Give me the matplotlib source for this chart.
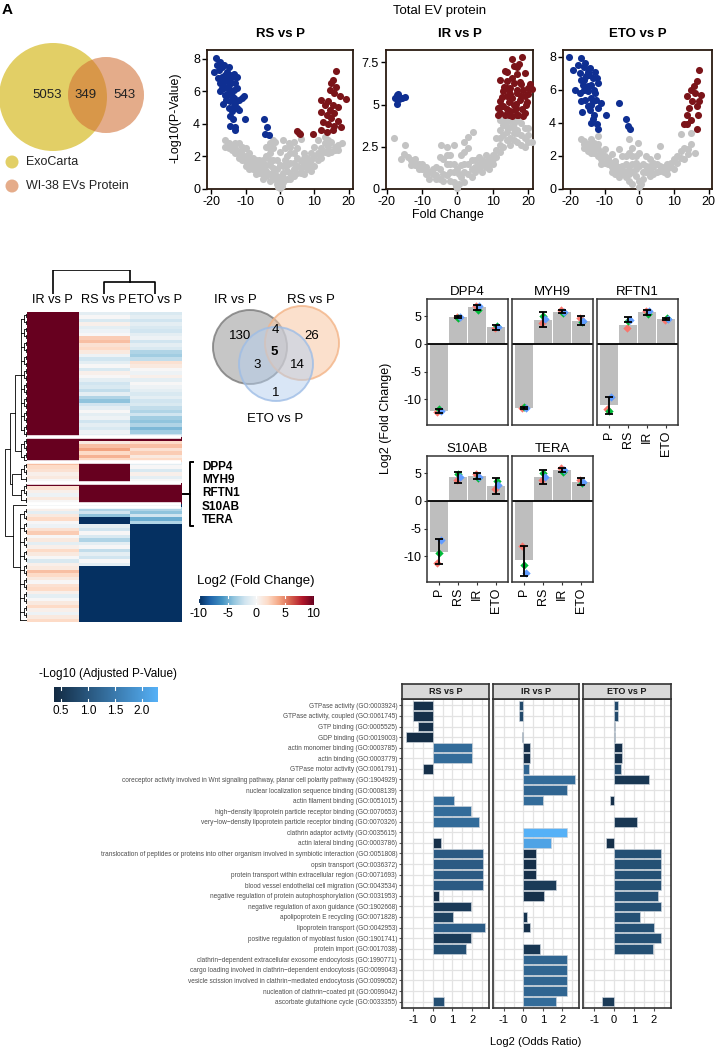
import numpy as np
import matplotlib
matplotlib.use('Agg')
import matplotlib.pyplot as plt
from matplotlib.patches import Circle
from matplotlib.colors import LinearSegmentedColormap, Normalize

plt.rcParams['font.family'] = ['Liberation Sans', 'DejaVu Sans']
nan = np.nan

# ---------------- data ----------------
# A: ExoCarta vs WI-38 EV protein overlap
venn_ab = [5053, 349, 543]
venn_ab_names = ['ExoCarta', 'WI-38 EVs Protein']

# volcano plots: (fold change, -log10 p)
volcano_titles = ['RS vs P', 'IR vs P', 'ETO vs P']
rs_gray = [(-16, 3.0), (-15, 2.8), (-14, 2.7), (-13, 2.5), (-16, 2.6), (-12, 2.8), (-11, 2.4), (-10, 2.5),
           (-13, 2.2), (-12, 1.9), (-11, 1.8), (-10, 1.7), (-9, 1.6), (-8, 1.5), (-7, 1.3), (-8, 1.2),
           (-6, 1.0), (-5, 0.9), (-4, 0.8), (-6, 1.5), (-5, 1.8), (-4, 2.0), (-3, 2.2), (-3, 1.5),
           (-2, 1.0), (-2, 0.6), (-1, 0.3), (-1, 0.8), (-3, 2.8), (-2, 2.5), (-4, 2.6), (-7, 1.8),
           (-9, 1.9), (-10, 1.4), (-9, 1.2), (-7, 0.9), (-5, 0.6), (-3, 0.5), (-11, 2.1), (-14, 2.4),
           (0, 0.05), (0.5, 0.2), (1, 0.4), (-0.5, 0.15), (0, 0.6), (1, 1.0), (2, 1.5), (2, 2.0),
           (1.5, 2.5), (3, 2.2), (2.5, 2.8), (0, 1.5), (0, 2.3), (-1, 1.8), (-1.5, 2.9), (1, 3.0),
           (3, 1.0), (4, 1.2), (5, 1.4), (6, 1.7), (7, 1.9), (8, 1.6), (9, 1.8), (10, 2.0), (11, 2.2),
           (12, 2.5), (13, 2.8), (14, 3.0), (15, 2.9), (16, 2.6), (17, 2.7), (18, 2.8), (10, 1.4),
           (8, 1.2), (6, 1.0), (4, 0.8), (12, 1.9), (5, 2.5), (6, 3.1), (4, 2.9), (13, 3.2), (11, 3.0),
           (9, 1.1), (7, 0.9), (2, 0.6), (3, 0.6), (14, 2.2), (16, 2.4), (10, 2.6),
           (-15, 2.5), (-13, 2.8), (-12, 2.3), (-11, 2.6), (-10, 2.0), (-9, 2.2), (-8, 1.8), (-8, 1.9),
           (-7, 1.6), (-6, 1.3), (-6, 1.8), (-5, 1.2), (-5, 1.5), (-4, 1.1), (-4, 1.5), (-3, 0.9),
           (-3, 1.8), (-2, 1.3), (-2, 1.8), (-1, 1.2), (-0.5, 0.5), (0.5, 0.8), (1, 1.4), (1.5, 1.8),
           (2, 1.1), (3, 1.6), (3, 2.6), (4, 1.6), (4, 2.2), (5, 1.0), (5, 1.9), (6, 1.3), (7, 1.5),
           (7, 2.2), (8, 1.9), (9, 1.4), (9, 2.2), (11, 1.8), (12, 2.2), (13, 2.3), (14, 2.6), (15, 2.3),
           (17, 2.4), (-3, 2.5), (-2, 3.0)]
rs_down = [(-18.8, 8.08), (-19.3, 7.2), (-17.4, 7.8), (-16.4, 7.6), (-15.0, 7.5), (-17.9, 7.3),
           (-15.5, 7.2), (-13.5, 7.1), (-12.6, 6.9), (-16.9, 6.9), (-15.9, 6.7), (-14.5, 6.6),
           (-17.6, 6.5), (-13.0, 6.5), (-16.4, 6.2), (-14.9, 6.1), (-13.5, 6.1), (-17.4, 6.0),
           (-15.6, 5.8), (-14.0, 5.7), (-10.6, 5.7), (-11.1, 5.6), (-15.9, 5.5), (-14.5, 5.4),
           (-13.0, 5.3), (-13.5, 5.1), (-12.1, 4.85), (-14.7, 4.5), (-13.7, 4.3), (-10.1, 4.3),
           (-14.5, 3.9), (-13.0, 3.8), (-13.0, 3.6), (-16.0, 7.0), (-14.0, 6.9), (-18.0, 6.8),
           (-12.5, 6.2), (-16.5, 5.2), (-12.0, 5.5), (-15.0, 6.4), (-17, 7.5), (-16.5, 6.5),
           (-15.5, 6.9), (-14.5, 7.0), (-17, 6.2), (-16, 5.8), (-13.5, 5.6), (-15, 5.0), (-14, 4.8),
           (-12.5, 5.0), (-18.5, 7.6), (-15, 5.9), (-4.6, 4.3), (-3.7, 3.8), (-4.3, 3.36), (-3.1, 3.3)]
rs_up = [(16.4, 7.26), (15.5, 6.7), (15.0, 6.5), (16.4, 6.3), (14.5, 6.1), (15.9, 5.9), (17.4, 5.7),
         (19.3, 5.55), (12.1, 5.45), (14.0, 5.4), (13.0, 5.15), (15.5, 5.15), (16.9, 5.05), (14.5, 4.85),
         (12.1, 4.75), (15.9, 4.65), (13.6, 4.55), (15.0, 4.35), (16.9, 4.2), (12.6, 4.1), (14.0, 4.0),
         (15.9, 3.9), (17.9, 3.8), (12.1, 3.6), (13.6, 3.5), (15.5, 3.6), (9.7, 3.36), (4.9, 3.55),
         (5.9, 3.4), (5.4, 3.45)]

ir_gray = [(-17.8, 3.0), (-14.7, 2.6), (-16, 1.8), (-14, 1.9), (-12, 1.8), (-11, 1.5), (-13, 1.7), (-10, 1.2),
           (-9, 1.3), (-8, 1.0), (-7, 0.9), (-8, 0.6), (-6, 0.8), (-5, 0.6), (-4, 0.5), (-5, 1.9),
           (-4.5, 2.6), (-3, 1.5), (-2, 1.0), (-1, 0.4), (-2, 2.0), (-1, 1.5), (-0.5, 0.2), (0, 0.05),
           (0.5, 0.3), (1, 0.7), (1, 2.0), (2, 2.8), (3, 3.1), (2, 1.5), (4.5, 3.4), (3, 0.9), (4, 1.2),
           (5, 1.0), (6, 1.2), (7, 1.4), (8, 1.6), (9, 1.8), (10, 2.0), (11, 2.3), (12, 2.6), (11, 3.0),
           (12, 3.5), (13, 3.8), (14, 4.0), (15, 3.7), (16, 3.9), (17, 3.5), (18, 3.2), (19, 3.0),
           (20, 2.8), (21, 2.8), (13, 2.5), (14, 2.9), (15, 3.0), (16, 3.3), (17, 2.8), (18, 3.9),
           (12, 4.1), (10, 1.5), (8, 2.0), (6, 1.9), (5, 1.7), (20, 3.6), (-3, 2.0), (-6, 1.3),
           (-9, 0.9), (-12, 1.4), (2, 0.4), (4, 0.7), (7, 1.0), (9, 1.2), (-1, 2.6), (0, 1.2),
           (-15, 2.1), (-13, 1.4), (-11, 1.2), (-10, 1.5), (-9, 1.1), (-7, 1.2), (-6, 0.6), (-5, 1.2),
           (-4, 0.9), (-4, 1.8), (-3, 0.8), (-3, 2.5), (-2, 1.5), (-2, 0.5), (-1, 1.0), (0.5, 0.9),
           (1, 1.4), (2, 1.0), (2, 2.2), (3, 1.5), (3, 2.4), (4, 1.7), (5, 1.3), (6, 1.5), (7, 1.7),
           (8, 1.3), (9, 1.5), (10, 1.8), (11, 1.9), (12, 2.2), (13, 3.2), (14, 3.4), (15, 2.6),
           (16, 2.9), (17, 3.3), (19, 3.6), (20, 3.2), (14, 3.7), (16, 3.6), (12, 3.0), (18, 2.6),
           (13, 4.0), (15, 4.1), (19, 2.5), (17, 4.1)]
ir_down = [(-17.6, 5.36), (-16.7, 5.65), (-17.2, 5.06), (-15.8, 5.4), (-14.8, 5.46), (-16.5, 5.3),
           (-17.0, 5.55)]
ir_up = [(15.4, 7.7), (18.2, 7.8), (16.8, 7.25), (14.0, 6.95), (19.2, 6.85), (12.1, 6.45), (15.4, 6.55),
         (17.7, 6.35), (20.1, 5.65), (13.1, 6.05), (14.5, 5.85), (16.8, 5.85), (18.7, 5.85), (12.6, 5.45),
         (15.4, 5.36), (17.7, 5.26), (19.6, 5.16), (12.1, 4.86), (14.0, 4.76), (16.3, 4.66), (18.2, 4.76),
         (11.6, 4.36), (13.5, 4.36), (15.4, 4.3), (17.2, 4.36), (14.5, 5.16), (16.6, 5.06), (12, 4.5),
         (13, 4.9), (14, 5.5), (15, 6.0), (16, 6.3), (17, 6.8), (18, 6.2), (19, 5.5), (20, 6.0), (13, 5.8),
         (14, 6.4), (15, 4.6), (16, 5.0), (17, 4.4), (18, 5.5), (19, 4.5), (12, 5.2), (13.5, 7.0),
         (16, 7.3), (17.5, 7.4), (20.5, 6.2), (21, 5.9), (11.5, 4.8), (14.5, 4.4), (16.5, 4.8),
         (18.5, 4.3), (19.5, 5.0), (15, 5.6), (17, 5.7), (14, 6.0)]

eto_gray = [(-17, 3.0), (-16, 2.9), (-15, 2.7), (-14, 2.6), (-13, 2.5), (-12, 2.4), (-16, 2.5), (-14, 2.2),
            (-12, 2.0), (-11, 1.8), (-10, 1.6), (-9, 1.5), (-8, 1.3), (-7, 1.2), (-6, 1.0), (-5, 0.9),
            (-4, 0.7), (-3, 0.5), (-2, 0.3), (-10, 2.4), (-8, 2.1), (-12, 3.2), (-6, 2.4), (-4, 2.0),
            (-3, 3.0), (-2, 2.5), (-2, 1.5), (-1, 0.8), (-1, 2.0), (0, 0.1), (0.5, 0.3), (1, 0.6),
            (2, 1.0), (3, 1.4), (4, 1.6), (5, 2.0), (6, 2.6), (2, 2.0), (1, 1.5), (3, 0.8), (4, 0.9),
            (5, 1.0), (6, 1.1), (7, 1.3), (8, 1.5), (9, 1.6), (10, 1.8), (11, 2.0), (12, 2.3), (13, 2.5),
            (12, 3.3), (15, 3.4), (14, 2.4), (13, 1.8), (10, 1.2), (8, 0.9), (16, 2.2), (-15, 2.3),
            (-9, 1.9), (-7, 1.7), (-5, 1.4), (-3, 1.2), (0, 1.4), (-0.5, 2.8),
            (-16, 2.7), (-15, 2.6), (-13, 2.2), (-13, 2.8), (-11, 2.2), (-11, 1.5), (-10, 2.0), (-9, 1.8),
            (-8, 1.6), (-8, 1.0), (-7, 1.5), (-7, 0.9), (-6, 1.3), (-6, 0.7), (-5, 1.2), (-5, 2.0),
            (-4, 1.0), (-4, 1.5), (-3, 0.9), (-3, 2.2), (-2, 1.0), (-2, 2.0), (-1, 1.2), (-1, 1.6),
            (0, 0.5), (0, 2.2), (1, 1.0), (2, 1.4), (3, 1.1), (3, 1.8), (4, 1.3), (5, 1.5), (6, 1.4),
            (7, 1.0), (8, 1.2), (9, 1.3), (11, 1.6), (12, 1.9), (14, 2.1), (15, 2.7), (-14, 3.0), (-12, 2.7)]
eto_down = [(-20.4, 8.0), (-16.8, 7.9), (-19.2, 7.2), (-15.8, 7.6), (-14.4, 7.3), (-12.9, 7.1),
            (-17.3, 7.0), (-15.4, 6.8), (-12.4, 6.7), (-18.7, 6.0), (-16.3, 6.3), (-13.9, 6.3),
            (-12.0, 6.4), (-17.3, 5.8), (-14.8, 5.9), (-12.9, 5.8), (-15.8, 5.4), (-13.4, 5.3),
            (-11.0, 5.2), (-16.5, 4.65), (-14.4, 4.8), (-12.0, 4.9), (-9.8, 4.45), (-13.4, 4.25),
            (-12.4, 3.95), (-12.0, 3.6), (-16.0, 7.4), (-14.5, 6.9), (-15.0, 6.2), (-13.5, 6.7),
            (-17.8, 7.5), (-14.0, 5.1), (-17, 6.6), (-16, 6.0), (-14, 5.5), (-15, 5.0), (-13, 4.5),
            (-14, 4.0), (-16, 6.6), (-13, 6.0), (-15, 7.1), (-17, 5.3), (-12.5, 5.4),
            (-5.8, 5.17), (-3.9, 4.25), (-3.2, 3.8), (-2.7, 3.6)]
eto_up = [(17.2, 7.2), (16.7, 6.5), (15.7, 6.2), (14.8, 6.0), (17.7, 5.7), (16.2, 5.8), (13.8, 5.6),
          (17.2, 5.3), (15.3, 5.3), (14.3, 4.9), (16.7, 5.0), (13.8, 4.45), (17.0, 4.5), (14.8, 4.15),
          (12.8, 3.9), (13.8, 3.95), (16.7, 3.65)]

# B: heatmap log2 fold change, columns IR, RS, ETO; row blocks from clustering
hm_cols = ['IR vs P', 'RS vs P', 'ETO vs P']
hm_blocks = [36, 7, 6, 6, 1, 33]
hm_ir = ([10] * 36 + [10] * 7 + [3, 2, 1.5, 0.5, 1, 0] + [10, 1.5, 0.5, -0.5, 1, 0] + [-10] +
         [0.5, -1, 1, 2, 0, -0.5, 1.5, 2.5, 0, 1, -1, 0.5, 2, 1, 0, -1.5, 0.5, 1, 3, 2, 1, 0, 1.5, 2,
          0.5, -1, 0, 1, 2, 0.5, -0.5, 1, 2])
hm_rs = ([-1, 0, -1.5, 0.5, -1, -0.5, 0, 2.5, 3, 1.5, 2, 1, -0.5, -2, -1, 0, -1.5, 0.5, 0, -1,
          -2, -1.5, -2.5, -1, -3, -4, -2, -1, 0, -1, -0.5, -2, -1, -1.5, -0.5, -1] +
         [10, 1, 3, 4, 2, 3.5, 2] + [10] * 6 + [10] * 6 + [-10] +
         [-3, -2, -4, -10, -10, -1, -2, 0, -1.5, -3, -1, 0, -2.5, -1, -2, 0, -1] + [-10] * 16)
hm_eto = ([-1.5, -1, -2, -1, -1.5, -2, -1, -0.5, -2, -1, -1.5, -3, -3.5, -2.5, 1.5, 1, 0, -0.5, 0.5,
           -1, 0, -0.5, -1, -1.5, -1, -2, -1.5, -2.5, -3, -2, -3.5, -4, -3, -4.5, -3.5, -2] +
          [10, 2, 3, 1.5, 2.5, 1, 2] + [-1, 0, -1.5, 0.5, -1, 0] + [10] * 6 + [-10] +
          [-3, -4, -2, -5, -3] + [-10] * 28)
# dendrogram merge heights (block level)
hm_block_height = [0.27, 0.25, 0.25, 0.27, 0.0, 0.3]
hm_block_merges = [(0, 1, 0.55), (2, 3, 0.67), (6, 7, 0.77), (4, 5, 0.62), (8, 9, 1.0)]
hm_col_merges = [(1, 2, 0.53), (0, 3, 1.0)]
shared_genes = ['DPP4', 'MYH9', 'RFTN1', 'S10AB', 'TERA']

venn3_names = ['IR vs P', 'RS vs P', 'ETO vs P']
venn3_counts = {'IR': 130, 'IR_RS': 4, 'RS': 26, 'ALL': 5, 'IR_ETO': 3, 'RS_ETO': 14, 'ETO': 1}

# C: log2 fold change per gene and condition
bar_groups = ['P', 'RS', 'IR', 'ETO']
bar_genes = ['DPP4', 'MYH9', 'RFTN1', 'S10AB', 'TERA']
bar_mean = [[-12.0, 4.8, 6.6, 3.0], [-11.5, 4.4, 5.8, 4.2], [-11.0, 3.4, 5.7, 4.5],
            [-9.2, 4.3, 4.5, 2.7], [-10.7, 4.4, 5.5, 3.4]]
rep1 = [[-12.2, 4.8, 6.9, 2.8], [-11.6, 3.7, 6.1, 4.6], [-11.8, 2.8, 5.9, 4.3],
        [-11.1, 3.8, 4.8, 2.1], [-8.1, 3.8, 5.9, 3.7]]
rep2 = [[-11.7, 4.7, 6.2, 3.3], [-11.4, 5.1, 5.6, 3.9], [-12.0, 4.2, 5.4, 4.6],
        [-9.3, 4.8, 4.2, 3.6], [-11.5, 5.0, 5.3, 3.2]]
rep3 = [[-12.1, 4.9, 6.8, 3.1], [-11.5, 4.5, 5.8, 4.1], [-9.5, 4.4, 6.0, 4.5],
        [-7.0, 4.3, 4.4, 2.8], [-12.9, 4.3, 5.6, 3.5]]
err_lo = [[-12.4, 4.6, 6.2, 2.6], [-11.7, 3.0, 5.5, 3.4], [-12.6, 3.9, 5.3, 4.3],
          [-11.4, 3.3, 3.9, 1.2], [-13.5, 3.1, 5.2, 2.8]]
err_hi = [[-11.7, 5.0, 7.0, 3.4], [-11.3, 5.8, 6.1, 5.0], [-9.6, 4.8, 6.2, 4.7],
          [-6.9, 5.2, 5.0, 4.2], [-8.1, 5.6, 5.9, 4.1]]

# D: GO enrichment, log2 odds ratio and -log10 adjusted p
go_terms = ['GTPase activity (GO:0003924)', 'GTPase activity, coupled (GO:0061745)',
            'GTP binding (GO:0005525)', 'GDP binding (GO:0019003)',
            'actin monomer binding (GO:0003785)', 'actin binding (GO:0003779)',
            'GTPase motor activity (GO:0061791)',
            'coreceptor activity involved in Wnt signaling pathway, planar cell polarity pathway (GO:1904929)',
            'nuclear localization sequence binding (GO:0008139)', 'actin filament binding (GO:0051015)',
            'high\u2212density lipoprotein particle receptor binding (GO:0070653)',
            'very\u2212low\u2212density lipoprotein particle receptor binding (GO:0070326)',
            'clathrin adaptor activity (GO:0035615)', 'actin lateral binding (GO:0003786)',
            'translocation of peptides or proteins into other organism involved in symbiotic interaction (GO:0051808)',
            'opsin transport (GO:0036372)', 'protein transport within extracellular region (GO:0071693)',
            'blood vessel endothelial cell migration (GO:0043534)',
            'negative regulation of protein autophosphorylation (GO:0031953)',
            'negative regulation of axon guidance (GO:1902668)', 'apolipoprotein E recycling (GO:0071828)',
            'lipoprotein transport (GO:0042953)', 'positive regulation of myoblast fusion (GO:1901741)',
            'protein import (GO:0017038)',
            'clathrin\u2212dependent extracellular exosome endocytosis (GO:1990771)',
            'cargo loading involved in clathrin\u2212dependent endocytosis (GO:0099043)',
            'vesicle scission involved in clathrin\u2212mediated endocytosis (GO:0099052)',
            'nucleation of clathrin\u2212coated pit (GO:0099042)', 'ascorbate glutathione cycle (GO:0033355)']
go_facets = ['RS vs P', 'IR vs P', 'ETO vs P']
rs_or = [-0.98, -0.98, -0.76, -1.37, 1.98, 1.98, -0.49, nan, nan, 1.07, 1.95, 2.36, nan, 0.42, 2.54,
         2.54, 2.54, 2.54, 0.32, 1.95, 1.05, 2.64, 1.95, 1.71, nan, nan, nan, nan, 0.59]
rs_p = [0.45, 0.45, 0.45, 0.4, 1.3, 1.3, 0.45, nan, nan, 1.3, 1.3, 1.3, nan, 0.45, 1.05, 1.05, 1.05,
        1.05, 0.45, 0.6, 0.7, 1.1, 0.6, 0.9, nan, nan, nan, nan, 0.9]
ir_or = [-0.24, -0.24, -0.03, -0.05, 0.32, 0.32, 0.27, 2.66, 2.25, 1.0, nan, nan, 2.25, 1.41, 0.64,
         0.64, 0.64, 1.66, 1.07, nan, 0.17, 0.32, nan, 0.83, 2.25, 2.25, 2.25, 2.25, 1.66]
ir_p = [0.8, 0.8, 0.5, 0.5, 0.45, 0.45, 1.2, 1.3, 1.2, 1.3, nan, nan, 2.3, 2.1, 0.45, 0.45, 0.45,
        0.6, 0.45, nan, 0.5, 0.45, nan, 0.55, 1.2, 1.2, 1.2, 1.2, 1.3]
eto_or = [0.19, 0.19, 0.07, 0.07, 0.39, 0.39, 0.34, 1.73, nan, -0.19, nan, 1.15, nan, -0.39, 2.34,
          2.34, 2.34, 2.34, 2.19, 2.34, 1.29, 2.02, 2.34, 1.95, nan, nan, nan, nan, -0.63]
eto_p = [0.8, 0.8, 0.6, 0.6, 0.45, 0.45, 0.8, 0.55, nan, 0.45, nan, 0.55, nan, 0.45, 0.9, 0.9, 0.9,
         0.9, 0.9, 0.9, 0.9, 0.9, 0.9, 0.9, nan, nan, nan, nan, 0.6]

# ---------------- figure ----------------
W, H = 718, 1050
fig = plt.figure(figsize=(W / 100, H / 100), dpi=100)


def px_axes(l, t, r, b):
    return fig.add_axes([l / W, 1 - b / H, (r - l) / W, (b - t) / H])


ov = px_axes(0, 0, W, H)
ov.set_xlim(0, W)
ov.set_ylim(H, 0)
ov.axis('off')

ov.text(2, 3, 'A', fontsize=11, fontweight='bold', va='top')

# venn A
ov.add_patch(Circle((53, 97), 54, color='#E2CF66', lw=0))
ov.add_patch(Circle((106, 95), 38, color='#D27035', alpha=0.58, lw=0))
for x, n in zip([47, 86, 124], venn_ab):
    ov.text(x, 95, str(n), fontsize=9.5, ha='center', va='center', color='#222222')
for y, name, c in zip([162, 186], venn_ab_names, ['#E2CF66', '#E5AC8A']):
    ov.add_patch(Circle((12, y), 6.5, color=c, lw=0))
    ov.text(26, y, name, fontsize=9, va='center', color='#222222')

# volcano plots
ov.text(440, 11, 'Total EV protein', fontsize=9.5, ha='center', va='center')
volc_boxes = [(207, 50, 353, 189), (386, 50, 533, 189), (563, 50, 712, 189)]
volc_xlim = [(-21.3, 21.3), (-20.2, 21.4), (-22.1, 21.0)]
volc_ylim = [(0, 8.55), (0, 8.23), (0, 8.4)]
volc_yticks = [[0, 2, 4, 6, 8], [0, 2.5, 5, 7.5], [0, 2, 4, 6, 8]]
volc_ytl = [['0', '2', '4', '6', '8'], ['0', '2.5', '5', '7.5'], ['0', '2', '4', '6', '8']]
volc_sets = [(rs_gray, rs_down, rs_up), (ir_gray, ir_down, ir_up), (eto_gray, eto_down, eto_up)]
for i, box in enumerate(volc_boxes):
    ax = px_axes(*box)
    g, d, u = volc_sets[i]
    for pts, c in [(g, '#C3C3C3'), (d, '#0F2F92'), (u, '#7B1419')]:
        xy = np.array(pts)
        ax.scatter(xy[:, 0], xy[:, 1], s=26, color=c, lw=0, clip_on=False, zorder=3)
    ax.set_xlim(*volc_xlim[i])
    ax.set_ylim(*volc_ylim[i])
    ax.set_xticks([-20, -10, 0, 10, 20])
    ax.set_xticklabels(['-20', '-10', '0', '10', '20'])
    ax.set_yticks(volc_yticks[i])
    ax.set_yticklabels(volc_ytl[i])
    ax.tick_params(labelsize=9, length=3.5, width=1, pad=1.5)
    for s in ax.spines.values():
        s.set_linewidth(1.3)
        s.set_color('#2a1a10')
    ax.set_title(volcano_titles[i], fontsize=9.5, fontweight='bold', pad=9)
ov.text(448, 215, 'Fold Change', fontsize=9, ha='center', va='center')
ov.text(176, 118, '-Log10(P-Value)', fontsize=9, rotation=90, ha='center', va='center')

# heatmap
mat = np.array([hm_ir, hm_rs, hm_eto], dtype=float).T
n_rows = mat.shape[0]
hm = px_axes(27, 312, 181, 622)
hm.imshow(mat, cmap='RdBu_r', vmin=-10, vmax=10, aspect='auto', interpolation='nearest',
          extent=(0, 3, n_rows, 0))
edges = np.cumsum(hm_blocks)[:-1]
for e in edges:
    hm.axhline(e, color='white', lw=2.6)
hm.set_xlim(0, 3)
hm.set_ylim(n_rows, 0)
hm.axis('off')
for j, name in enumerate(hm_cols):
    ov.text(27 + (j + 0.5) * 154 / 3, 300, name, fontsize=9.2, ha='center', va='center')

# row dendrogram
rd = px_axes(4, 312, 27, 622)
rd.set_xlim(1.03, 0)
rd.set_ylim(n_rows, 0)
rd.axis('off')
dk = dict(color='black', lw=0.6)
node_pos = []
start = 0
for b, bh in zip(hm_blocks, hm_block_height):
    ys = [start + k + 0.5 for k in range(b)]
    if b == 1:
        node_pos.append((ys[0], 0.0))
    else:
        pairs = []
        for k in range(0, b, 2):
            grp = ys[k:k + 2]
            if len(grp) == 2:
                rd.plot([0, 0.06, 0.06, 0], [grp[0], grp[0], grp[1], grp[1]], **dk)
                pairs.append((np.mean(grp), 0.06))
            else:
                pairs.append((grp[0], 0.0))
        quads = []
        for k in range(0, len(pairs), 2):
            grp = pairs[k:k + 2]
            if len(grp) == 2:
                rd.plot([grp[0][1], 0.13, 0.13, grp[1][1]], [grp[0][0], grp[0][0], grp[1][0], grp[1][0]], **dk)
                quads.append((np.mean([grp[0][0], grp[1][0]]), 0.13))
            else:
                quads.append(grp[0])
        for y, h in quads:
            rd.plot([h, bh], [y, y], **dk)
        rd.plot([bh, bh], [quads[0][0], quads[-1][0]], **dk)
        node_pos.append((np.mean([quads[0][0], quads[-1][0]]), bh))
    start += b
for a, b, h in hm_block_merges:
    ya, ha = node_pos[a]
    yb, hb = node_pos[b]
    rd.plot([ha, h, h, hb], [ya, ya, yb, yb], **dk)
    node_pos.append(((ya + yb) / 2, h))

# column dendrogram
cd = px_axes(27, 270, 181, 294)
cd.set_xlim(0, 3)
cd.set_ylim(0, 1.02)
cd.axis('off')
cnodes = [(0.5, 0.0), (1.5, 0.0), (2.5, 0.0)]
for a, b, h in hm_col_merges:
    xa, ha = cnodes[a]
    xb, hb = cnodes[b]
    cd.plot([xa, xa, xb, xb], [ha, h, h, hb], color='black', lw=1.2)
    cnodes.append(((xa + xb) / 2, h))

# bracket with shared genes
ov.plot([193, 190, 190, 193], [462, 462, 526, 526], color='black', lw=1.4)
ov.plot([183, 190], [494, 494], color='black', lw=1.4)
for k, gname in enumerate(shared_genes):
    ov.text(202, 467 + k * 13.2, gname, fontsize=8.5, fontweight='bold', va='center')

# three-way venn
v3 = [((250, 347), '#8f8f8f', '#7a7a7a', 0.5), ((302, 343), '#f9c7a3', '#f3b487', 0.55),
      ((276, 364), '#b5cfee', '#9ebde6', 0.5)]
for (c, fc, ec, al) in v3:
    ov.add_patch(Circle(c, 37, facecolor=fc, edgecolor='none', alpha=al))
    ov.add_patch(Circle(c, 37, facecolor='none', edgecolor=ec, lw=1.4, alpha=0.8))
ov.text(235, 300, venn3_names[0], fontsize=9.5, ha='center', va='center')
ov.text(311, 300, venn3_names[1], fontsize=9.5, ha='center', va='center')
ov.text(275, 419, venn3_names[2], fontsize=9.5, ha='center', va='center')
for key, (x, y) in {'IR': (240, 336), 'IR_RS': (275, 330), 'RS': (312, 336), 'ALL': (274, 352),
                    'IR_ETO': (257, 365), 'RS_ETO': (297, 365), 'ETO': (276, 393)}.items():
    ov.text(x, y, str(venn3_counts[key]), fontsize=9.5, ha='center', va='center',
            fontweight='bold' if key == 'ALL' else 'normal')

# heatmap colorbar
ov.text(197, 581, 'Log2 (Fold Change)', fontsize=9.5, va='center')
cb = px_axes(199, 596, 313, 605)
cb.imshow(np.linspace(-10, 10, 256)[None, :], cmap='RdBu_r', vmin=-10, vmax=10, aspect='auto',
          extent=(-10, 10, 0, 1))
for t in [-10, -5, 0, 5, 10]:
    cb.plot([t, t], [0, 0.2], color='white', lw=0.8)
    cb.plot([t, t], [0.8, 1], color='white', lw=0.8)
cb.set_xlim(-10, 10)
cb.set_ylim(0, 1)
cb.set_yticks([])
cb.set_xticks([-10, -5, 0, 5, 10])
cb.set_xticklabels(['-10', '-5', '0', '5', '10'])
cb.tick_params(length=0, labelsize=9, pad=2)
for s in cb.spines.values():
    s.set_visible(False)

# C: bar panels
bar_boxes = [(427, 299, 508, 425), (512, 299, 593, 425), (597, 299, 678, 425),
             (427, 456, 508, 582), (512, 456, 593, 582)]
xpos = np.arange(len(bar_groups))
rep_cols = ['#F8766D', '#00BA38', '#619CFF']
rep_off = [-0.07, 0.03, 0.1]
for i, box in enumerate(bar_boxes):
    ax = px_axes(*box)
    ax.bar(xpos, bar_mean[i], width=0.93, color='#BEBEBE', zorder=1)
    ax.axhline(0, color='black', lw=1.3, zorder=2)
    for r, (vals, c) in enumerate(zip([rep1[i], rep2[i], rep3[i]], rep_cols)):
        ax.scatter(xpos + rep_off[r], vals, marker='D', s=18, color=c, lw=0, zorder=3)
    mid = (np.array(err_lo[i]) + np.array(err_hi[i])) / 2
    ax.errorbar(xpos, mid, yerr=[mid - np.array(err_lo[i]), np.array(err_hi[i]) - mid], fmt='none',
                ecolor='black', elinewidth=1.3, capsize=2.8, capthick=1.3, zorder=4)
    ax.set_xlim(-0.6, 3.6)
    ax.set_ylim(-14.6, 8.1)
    ax.set_title(bar_genes[i], fontsize=9.5, pad=3)
    ax.set_yticks([5, 0, -5, -10])
    ax.set_yticklabels(['5', '0', '-5', '-10'])
    ax.set_xticks(xpos)
    ax.set_xticklabels(bar_groups, rotation=90)
    ax.tick_params(labelsize=9, length=2.5, color='#333333', pad=1.5)
    if i not in (0, 3):
        ax.tick_params(labelleft=False, left=False)
    if i in (0, 1):
        ax.tick_params(labelbottom=False, bottom=False)
    for s in ax.spines.values():
        s.set_color('#333333')
        s.set_linewidth(1.1)
ov.text(386, 418, 'Log2 (Fold Change)', fontsize=9, rotation=90, ha='center', va='center')

# D: GO enrichment bars
go_cmap = LinearSegmentedColormap.from_list('go', ['#132B43', '#56B1F7'])
go_norm = Normalize(0.37, 2.30)
ov.text(39, 674, '-Log10 (Adjusted P-Value)', fontsize=8.5, va='center')
gcb = px_axes(54, 687, 158, 702)
gcb.imshow(np.linspace(0.37, 2.30, 256)[None, :], cmap=go_cmap, norm=go_norm, aspect='auto',
           extent=(0.37, 2.30, 0, 1))
for t in [0.5, 1.0, 1.5, 2.0]:
    gcb.plot([t, t], [0, 0.2], color='white', lw=0.8)
    gcb.plot([t, t], [0.8, 1], color='white', lw=0.8)
gcb.set_xlim(0.37, 2.30)
gcb.set_ylim(0, 1)
gcb.set_yticks([])
gcb.set_xticks([0.5, 1.0, 1.5, 2.0])
gcb.set_xticklabels(['0.5', '1.0', '1.5', '2.0'])
gcb.tick_params(length=0, labelsize=8.5, pad=2)
for s in gcb.spines.values():
    s.set_visible(False)

go_boxes = [(402, 489), (493, 579), (583, 671)]
go_vals = [(rs_or, rs_p), (ir_or, ir_p), (eto_or, eto_p)]
ypos = np.arange(len(go_terms))
for i, (l, r) in enumerate(go_boxes):
    ax = px_axes(l, 699, r, 1008)
    orr, pv = go_vals[i]
    orr = np.array(orr)
    pv = np.array(pv)
    ok = ~np.isnan(orr)
    ax.barh(ypos[ok], orr[ok], height=0.9, color=go_cmap(go_norm(pv[ok])), edgecolor='#c9d1d9',
            linewidth=0.5, zorder=3)
    ax.set_xlim(-1.56, 2.86)
    ax.set_ylim(len(go_terms) - 0.4, -0.6)
    ax.set_xticks([-1, 0, 1, 2])
    ax.set_xticklabels(['-1', '0', '1', '2'])
    ax.set_xticks([-1.5, -0.5, 0.5, 1.5, 2.5], minor=True)
    ax.set_yticks(ypos)
    ax.grid(True, which='both', color='#e3e3e3', lw=0.9, zorder=0)
    ax.set_axisbelow(True)
    ax.tick_params(axis='x', which='major', labelsize=8, length=2, color='#555555', pad=3)
    ax.tick_params(axis='x', which='minor', length=0)
    if i == 0:
        ax.set_yticklabels(go_terms)
        ax.tick_params(axis='y', labelsize=4.7, length=2, color='#555555', labelcolor='#4d4d4d', pad=1.5)
    else:
        ax.tick_params(axis='y', labelleft=False, left=False)
    for s in ax.spines.values():
        s.set_color('#333333')
        s.set_linewidth(1.2)
    st = px_axes(l, 684, r, 699)
    st.set_facecolor('#d9d9d9')
    st.set_xticks([])
    st.set_yticks([])
    for s in st.spines.values():
        s.set_color('#333333')
        s.set_linewidth(1.2)
    st.text(0.5, 0.5, go_facets[i], transform=st.transAxes, fontsize=6.5, fontweight='bold',
            ha='center', va='center', color='#1a1a1a')
ov.text(536, 1042, 'Log2 (Odds Ratio)', fontsize=8, ha='center', va='center')

fig.savefig('out.png', dpi=100)
